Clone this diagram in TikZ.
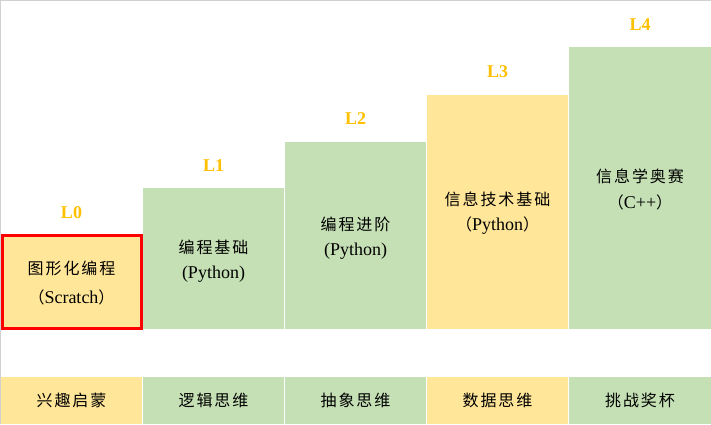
\documentclass[tikz,border=0pt]{standalone}
\usepackage{fontspec}
\setmainfont{Liberation Serif}
\newfontfamily\cjk[LetterSpace=12]{Noto Sans CJK SC}
\definecolor{yel}{HTML}{FFE699}
\definecolor{grn}{HTML}{C5E0B4}
\definecolor{gold}{HTML}{FFC000}
\definecolor{frame}{HTML}{D0D0D0}
\tikzset{
  blk/.style={anchor=north west, inner sep=0pt, outer sep=0pt, minimum width=141pt, draw=none},
  lvl/.style={font=\fontsize{18}{18}\selectfont\bfseries, text=gold, inner sep=0pt},
  zh/.style={font=\cjk\fontsize{16}{16}\selectfont, inner sep=0pt},
  en/.style={font=\fontsize{18}{18}\selectfont, inner sep=0pt},
}
\begin{document}
\begin{tikzpicture}[x=1pt,y=-1pt]
\useasboundingbox (0,0) rectangle (711,424);
\fill[white] (0,0) rectangle (711,424);
% steps
\node[blk, fill=yel, minimum height=95pt] (b0) at (1,234) {};
\node[blk, fill=grn, minimum height=141pt] (b1) at (143,188) {};
\node[blk, fill=grn, minimum height=187pt] (b2) at (285,142) {};
\node[blk, fill=yel, minimum height=234pt] (b3) at (427,95) {};
\node[blk, fill=grn, minimum height=282pt, minimum width=142pt] (b4) at (569,47) {};
\draw[red, line width=3pt] (2.5,235.5) rectangle (141.5,328.5);
% level labels
\node[lvl] (l0) at (71.5,213) {L0};
\node[lvl] (l1) at (213.5,166) {L1};
\node[lvl] (l2) at (355.5,119) {L2};
\node[lvl] (l3) at (497.5,72) {L3};
\node[lvl] (l4) at (640,25) {L4};
% box texts
\node[zh] (t0a) at (71.5,268) {图形化编程};
\node[zh] (t0b) at (71.5,297) {（{\rmfamily\fontsize{18}{18}\selectfont Scratch}）};
\node[zh] (t1a) at (213.5,247) {编程基础};
\node[en] (t1b) at (213.5,274) {(Python)};
\node[zh] (t2a) at (355.5,224) {编程进阶};
\node[en] (t2b) at (355.5,251) {(Python)};
\node[zh] (t3a) at (497.5,199) {信息技术基础};
\node[zh] (t3b) at (497.5,226) {（{\rmfamily\fontsize{18}{18}\selectfont Python}）};
\node[zh] (t4a) at (640,176) {信息学奥赛};
\node[zh] (t4b) at (640,202) {（{\rmfamily\fontsize{18}{18}\selectfont C++}）};
% bottom row
\node[blk, fill=yel, minimum height=47pt] (c0) at (1,377) {};
\node[blk, fill=grn, minimum height=47pt] (c1) at (143,377) {};
\node[blk, fill=grn, minimum height=47pt] (c2) at (285,377) {};
\node[blk, fill=yel, minimum height=47pt] (c3) at (427,377) {};
\node[blk, fill=grn, minimum height=47pt, minimum width=142pt] (c4) at (569,377) {};
\node[zh] (s0) at (c0.center) {兴趣启蒙};
\node[zh] (s1) at (c1.center) {逻辑思维};
\node[zh] (s2) at (c2.center) {抽象思维};
\node[zh] (s3) at (c3.center) {数据思维};
\node[zh] (s4) at (c4.center) {挑战奖杯};
% frame
\draw[frame, line width=1pt] (0.5,424) -- (0.5,0.5) -- (711,0.5);
\end{tikzpicture}
\end{document}
